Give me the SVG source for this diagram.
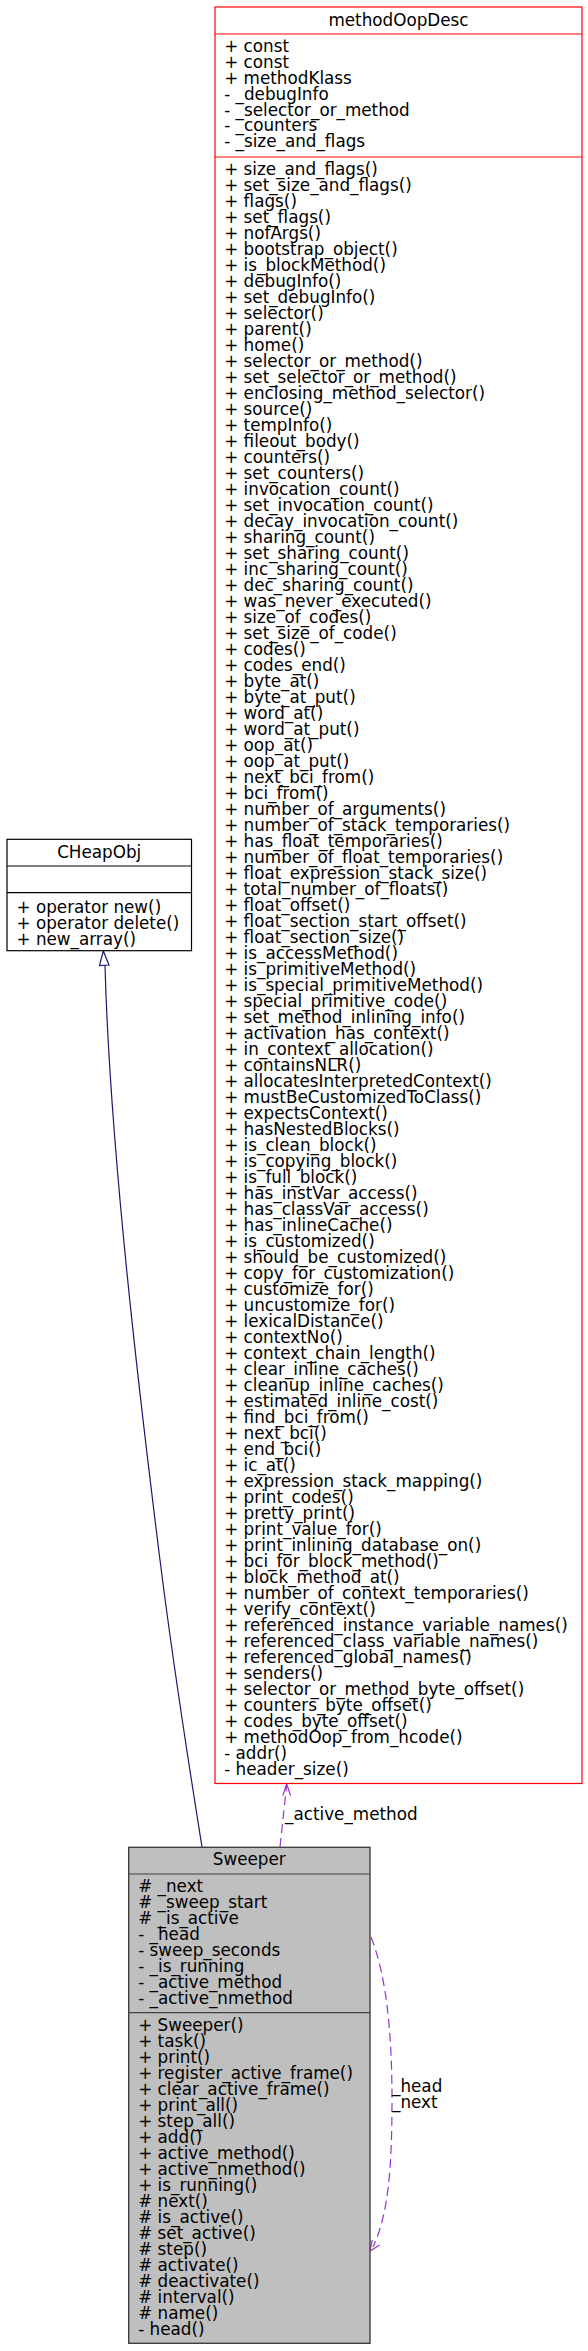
<svg xmlns="http://www.w3.org/2000/svg" width="588" height="2351" viewBox="0 0 588 2351">
<style>
text{font-family:"DejaVu Sans","Liberation Sans",sans-serif;font-size:16.8px;fill:#000}
.t{text-anchor:middle}
.box{fill:#fff;stroke:#ff0000;stroke-width:1.2}
.cbox{fill:#fff;stroke:#000;stroke-width:1.2}
.sbox{fill:#bfbfbf;stroke:#404040;stroke-width:1.4}
.sep{stroke-width:1.2}
.inh{fill:none;stroke:#191970;stroke-width:1.2}
.use{fill:none;stroke:#9a32cd;stroke-width:1.2;stroke-dasharray:9,5}
.head{fill:none;stroke:#9a32cd;stroke-width:1.2}
</style>
<rect width="588" height="2351" fill="#fff"/>
<g id="connectors">
<path class="inh" d="M202,1847 C193,1790 175,1680 160,1560 C140,1400 110,1150 105,965"/>
<polygon points="103.3,951 99.5,965.5 109,965" fill="#fff" stroke="#191970" stroke-width="1.2"/>
<path class="use" d="M280,1847 L286.5,1786"/>
<polyline class="head" points="282.8,1795.5 286.7,1784 290.5,1795.5"/>
<text x="285" y="1820">_active_method</text>
<path class="use" d="M371,1937 C386,1975 392,2030 392,2100 C392,2170 388,2215 373,2247"/>
<polyline class="head" points="372.3,2239.8 370,2251 379.6,2245"/>
<text x="392" y="2092">_head</text>
<text x="392" y="2108.3">_next</text>
</g>
<g id="methodOopDesc">
<rect class="box" x="215" y="7" width="367" height="1776.5"/>
<line class="box sep" x1="215" y1="34" x2="582" y2="34"/>
<line class="box sep" x1="215" y1="157" x2="582" y2="157"/>
<text class="t" x="398.5" y="25.5">methodOopDesc</text>
<text x="224.2" y="52.3">+ const</text>
<text x="224.2" y="68.1">+ const</text>
<text x="224.2" y="83.9">+ methodKlass</text>
<text x="224.2" y="99.7">- _debugInfo</text>
<text x="224.2" y="115.5">- _selector_or_method</text>
<text x="224.2" y="131.3">- _counters</text>
<text x="224.2" y="147.1">- _size_and_flags</text>
<text x="224.2" y="175">+ size_and_flags()</text>
<text x="224.2" y="191">+ set_size_and_flags()</text>
<text x="224.2" y="207">+ flags()</text>
<text x="224.2" y="223">+ set_flags()</text>
<text x="224.2" y="239">+ nofArgs()</text>
<text x="224.2" y="255">+ bootstrap_object()</text>
<text x="224.2" y="271">+ is_blockMethod()</text>
<text x="224.2" y="287">+ debugInfo()</text>
<text x="224.2" y="303">+ set_debugInfo()</text>
<text x="224.2" y="319">+ selector()</text>
<text x="224.2" y="335">+ parent()</text>
<text x="224.2" y="351">+ home()</text>
<text x="224.2" y="367">+ selector_or_method()</text>
<text x="224.2" y="383">+ set_selector_or_method()</text>
<text x="224.2" y="399">+ enclosing_method_selector()</text>
<text x="224.2" y="415">+ source()</text>
<text x="224.2" y="431">+ tempInfo()</text>
<text x="224.2" y="447">+ fileout_body()</text>
<text x="224.2" y="463">+ counters()</text>
<text x="224.2" y="479">+ set_counters()</text>
<text x="224.2" y="495">+ invocation_count()</text>
<text x="224.2" y="511">+ set_invocation_count()</text>
<text x="224.2" y="527">+ decay_invocation_count()</text>
<text x="224.2" y="543">+ sharing_count()</text>
<text x="224.2" y="559">+ set_sharing_count()</text>
<text x="224.2" y="575">+ inc_sharing_count()</text>
<text x="224.2" y="591">+ dec_sharing_count()</text>
<text x="224.2" y="607">+ was_never_executed()</text>
<text x="224.2" y="623">+ size_of_codes()</text>
<text x="224.2" y="639">+ set_size_of_code()</text>
<text x="224.2" y="655">+ codes()</text>
<text x="224.2" y="671">+ codes_end()</text>
<text x="224.2" y="687">+ byte_at()</text>
<text x="224.2" y="703">+ byte_at_put()</text>
<text x="224.2" y="719">+ word_at()</text>
<text x="224.2" y="735">+ word_at_put()</text>
<text x="224.2" y="751">+ oop_at()</text>
<text x="224.2" y="767">+ oop_at_put()</text>
<text x="224.2" y="783">+ next_bci_from()</text>
<text x="224.2" y="799">+ bci_from()</text>
<text x="224.2" y="815">+ number_of_arguments()</text>
<text x="224.2" y="831">+ number_of_stack_temporaries()</text>
<text x="224.2" y="847">+ has_float_temporaries()</text>
<text x="224.2" y="863">+ number_of_float_temporaries()</text>
<text x="224.2" y="879">+ float_expression_stack_size()</text>
<text x="224.2" y="895">+ total_number_of_floats()</text>
<text x="224.2" y="911">+ float_offset()</text>
<text x="224.2" y="927">+ float_section_start_offset()</text>
<text x="224.2" y="943">+ float_section_size()</text>
<text x="224.2" y="959">+ is_accessMethod()</text>
<text x="224.2" y="975">+ is_primitiveMethod()</text>
<text x="224.2" y="991">+ is_special_primitiveMethod()</text>
<text x="224.2" y="1007">+ special_primitive_code()</text>
<text x="224.2" y="1023">+ set_method_inlining_info()</text>
<text x="224.2" y="1039">+ activation_has_context()</text>
<text x="224.2" y="1055">+ in_context_allocation()</text>
<text x="224.2" y="1071">+ containsNLR()</text>
<text x="224.2" y="1087">+ allocatesInterpretedContext()</text>
<text x="224.2" y="1103">+ mustBeCustomizedToClass()</text>
<text x="224.2" y="1119">+ expectsContext()</text>
<text x="224.2" y="1135">+ hasNestedBlocks()</text>
<text x="224.2" y="1151">+ is_clean_block()</text>
<text x="224.2" y="1167">+ is_copying_block()</text>
<text x="224.2" y="1183">+ is_full_block()</text>
<text x="224.2" y="1199">+ has_instVar_access()</text>
<text x="224.2" y="1215">+ has_classVar_access()</text>
<text x="224.2" y="1231">+ has_inlineCache()</text>
<text x="224.2" y="1247">+ is_customized()</text>
<text x="224.2" y="1263">+ should_be_customized()</text>
<text x="224.2" y="1279">+ copy_for_customization()</text>
<text x="224.2" y="1295">+ customize_for()</text>
<text x="224.2" y="1311">+ uncustomize_for()</text>
<text x="224.2" y="1327">+ lexicalDistance()</text>
<text x="224.2" y="1343">+ contextNo()</text>
<text x="224.2" y="1359">+ context_chain_length()</text>
<text x="224.2" y="1375">+ clear_inline_caches()</text>
<text x="224.2" y="1391">+ cleanup_inline_caches()</text>
<text x="224.2" y="1407">+ estimated_inline_cost()</text>
<text x="224.2" y="1423">+ find_bci_from()</text>
<text x="224.2" y="1439">+ next_bci()</text>
<text x="224.2" y="1455">+ end_bci()</text>
<text x="224.2" y="1471">+ ic_at()</text>
<text x="224.2" y="1487">+ expression_stack_mapping()</text>
<text x="224.2" y="1503">+ print_codes()</text>
<text x="224.2" y="1519">+ pretty_print()</text>
<text x="224.2" y="1535">+ print_value_for()</text>
<text x="224.2" y="1551">+ print_inlining_database_on()</text>
<text x="224.2" y="1567">+ bci_for_block_method()</text>
<text x="224.2" y="1583">+ block_method_at()</text>
<text x="224.2" y="1599">+ number_of_context_temporaries()</text>
<text x="224.2" y="1615">+ verify_context()</text>
<text x="224.2" y="1631">+ referenced_instance_variable_names()</text>
<text x="224.2" y="1647">+ referenced_class_variable_names()</text>
<text x="224.2" y="1663">+ referenced_global_names()</text>
<text x="224.2" y="1679">+ senders()</text>
<text x="224.2" y="1695">+ selector_or_method_byte_offset()</text>
<text x="224.2" y="1711">+ counters_byte_offset()</text>
<text x="224.2" y="1727">+ codes_byte_offset()</text>
<text x="224.2" y="1743">+ methodOop_from_hcode()</text>
<text x="224.2" y="1759">- addr()</text>
<text x="224.2" y="1775">- header_size()</text>
</g>
<g id="CHeapObj">
<rect class="cbox" x="7" y="839.3" width="184.5" height="111.4"/>
<line class="cbox sep" x1="7" y1="866" x2="191.5" y2="866"/>
<line class="cbox sep" x1="7" y1="892.7" x2="191.5" y2="892.7"/>
<text class="t" x="99.2" y="858.3">CHeapObj</text>
<text x="16.5" y="912.7">+ operator new()</text>
<text x="16.5" y="928.7">+ operator delete()</text>
<text x="16.5" y="944.7">+ new_array()</text>
</g>
<g id="Sweeper">
<rect class="sbox" x="128.7" y="1847.3" width="241.3" height="496"/>
<line class="sbox sep" x1="128.7" y1="1874" x2="370" y2="1874"/>
<line class="sbox sep" x1="128.7" y1="2012.7" x2="370" y2="2012.7"/>
<text class="t" x="249.3" y="1865">Sweeper</text>
<text x="138.2" y="1891.7"># _next</text>
<text x="138.2" y="1907.7"># _sweep_start</text>
<text x="138.2" y="1923.7"># _is_active</text>
<text x="138.2" y="1939.7">- _head</text>
<text x="138.2" y="1955.7">- sweep_seconds</text>
<text x="138.2" y="1971.7">- _is_running</text>
<text x="138.2" y="1987.7">- _active_method</text>
<text x="138.2" y="2003.7">- _active_nmethod</text>
<text x="138.2" y="2030.7">+ Sweeper()</text>
<text x="138.2" y="2046.7">+ task()</text>
<text x="138.2" y="2062.7">+ print()</text>
<text x="138.2" y="2078.7">+ register_active_frame()</text>
<text x="138.2" y="2094.7">+ clear_active_frame()</text>
<text x="138.2" y="2110.7">+ print_all()</text>
<text x="138.2" y="2126.7">+ step_all()</text>
<text x="138.2" y="2142.7">+ add()</text>
<text x="138.2" y="2158.7">+ active_method()</text>
<text x="138.2" y="2174.7">+ active_nmethod()</text>
<text x="138.2" y="2190.7">+ is_running()</text>
<text x="138.2" y="2206.7"># next()</text>
<text x="138.2" y="2222.7"># is_active()</text>
<text x="138.2" y="2238.7"># set_active()</text>
<text x="138.2" y="2254.7"># step()</text>
<text x="138.2" y="2270.7"># activate()</text>
<text x="138.2" y="2286.7"># deactivate()</text>
<text x="138.2" y="2302.7"># interval()</text>
<text x="138.2" y="2318.7"># name()</text>
<text x="138.2" y="2334.7">- head()</text>
</g>
</svg>
